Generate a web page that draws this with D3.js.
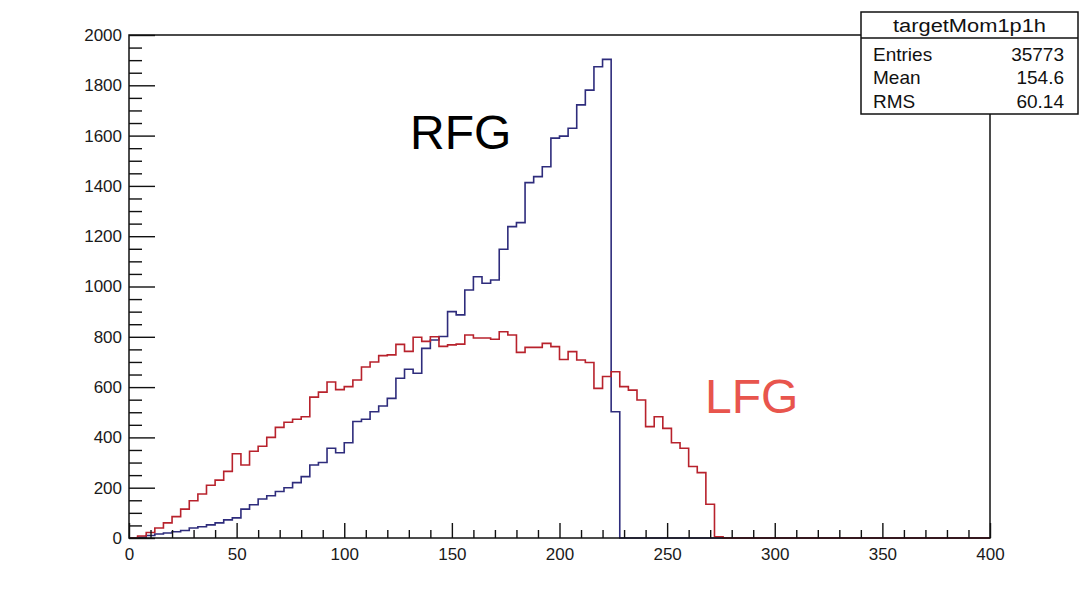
<!DOCTYPE html>
<html><head><meta charset="utf-8">
<script src="https://cdn.jsdelivr.net/npm/d3@7"></script>
<style>body{margin:0;background:#fff}svg{display:block}</style>
</head><body><svg id="c" width="1081" height="595"></svg>
<script>
// ---- data ----
const binWidth = 4;            // histogram bin width (100 bins over 0..400)
const xTickMajor = [0, 50, 100, 150, 200, 250, 300, 350, 400];
const yTickMajor = [0, 200, 400, 600, 800, 1000, 1200, 1400, 1600, 1800, 2000];
const rfgCounts = [
  0, 3, 10, 16, 20, 25, 30, 40, 45, 52,
  60, 72, 80, 115, 132, 155, 168, 185, 200, 220,
  244, 290, 300, 357, 339, 379, 463, 472, 502, 525,
  555, 635, 671, 655, 754, 787, 801, 900, 887, 986,
  1039, 1013, 1026, 1148, 1238, 1254, 1413, 1437, 1476, 1590,
  1598, 1629, 1722, 1781, 1874, 1903, 502, 0, 0, 0,
  0, 0, 0, 0, 0, 0, 0, 0, 0, 0,
  0, 0, 0, 0, 0, 0, 0, 0, 0, 0,
  0, 0, 0, 0, 0, 0, 0, 0, 0, 0,
  0, 0, 0, 0, 0, 0, 0, 0, 0, 0
];
const lfgCounts = [
  0, 8, 22, 40, 60, 85, 115, 148, 175, 210,
  230, 265, 335, 290, 345, 365, 400, 440, 460, 472,
  482, 560, 580, 620, 590, 602, 628, 680, 700, 725,
  728, 770, 742, 798, 782, 800, 762, 768, 771, 807,
  795, 795, 790, 820, 807, 738, 758, 758, 774, 761,
  710, 741, 708, 698, 595, 642, 661, 602, 588, 549,
  443, 482, 436, 379, 357, 284, 260, 134, 5, 0,
  0, 0, 0, 0, 0, 0, 0, 0, 0, 0,
  0, 0, 0, 0, 0, 0, 0, 0, 0, 0,
  0, 0, 0, 0, 0, 0, 0, 0, 0, 0
];
const statTitle = "targetMom1p1h";
const statNames = ["Entries", "Mean", "RMS"];
const statValues = ["35773", "154.6", "60.14"];

// ---- layout ----
const W = 1081, H = 595;
const m = {left: 129, right: 91, top: 35, bottom: 57};
const font = "'Liberation Sans', Arial, Helvetica, sans-serif";
const svg = d3.select("#c");
svg.append("rect").attr("width", W).attr("height", H).attr("fill", "#fff");

const x = d3.scaleLinear().domain([0, 400]).range([m.left, W - m.right]);
const y = d3.scaleLinear().domain([0, 2000]).range([H - m.bottom, m.top]);

// histogram step outlines
function stepPoints(counts) {
  const pts = [];
  counts.forEach((c, i) => {
    pts.push([i * binWidth, c]);
    pts.push([(i + 1) * binWidth, c]);
  });
  return pts;
}
const line = d3.line().x(d => x(d[0])).y(d => y(d[1]));

svg.append("path").attr("d", line(stepPoints(rfgCounts)))
  .attr("fill", "none").attr("stroke", "#2e2c7c").attr("stroke-width", 1.6);
svg.append("path").attr("d", line(stepPoints(lfgCounts)))
  .attr("fill", "none").attr("stroke", "#b8222c").attr("stroke-width", 1.6);

// axes
const yMinor = d3.range(0, 2001, 50).filter(v => v % 200 !== 0);
const xMinor = d3.range(0, 401, 10).filter(v => v % 50 !== 0);

const gy = svg.append("g").attr("transform", `translate(${m.left},0)`)
  .call(d3.axisLeft(y).tickValues(yTickMajor).tickSizeInner(-26).tickSizeOuter(0).tickPadding(7).tickFormat(d3.format("d")));
const gy2 = svg.append("g").attr("transform", `translate(${m.left},0)`)
  .call(d3.axisLeft(y).tickValues(yMinor).tickSizeInner(-13).tickSizeOuter(0).tickFormat(""));
const gx = svg.append("g").attr("transform", `translate(0,${H - m.bottom})`)
  .call(d3.axisBottom(x).tickValues(xTickMajor).tickSizeInner(-15).tickSizeOuter(0).tickPadding(10).tickFormat(d3.format("d")));
const gx2 = svg.append("g").attr("transform", `translate(0,${H - m.bottom})`)
  .call(d3.axisBottom(x).tickValues(xMinor).tickSizeInner(-8).tickSizeOuter(0).tickFormat(""));
[gy, gy2, gx, gx2].forEach(g => {
  g.select(".domain").remove();
  g.selectAll("line").attr("stroke", "#111").attr("stroke-width", 1.4);
  g.selectAll("text").attr("font-family", font).attr("font-size", 17).attr("fill", "#1a1a1a");
});

// frame
svg.append("rect").attr("x", x(0)).attr("y", y(2000))
  .attr("width", x(400) - x(0)).attr("height", y(0) - y(2000))
  .attr("fill", "none").attr("stroke", "#111").attr("stroke-width", 1.5);

// annotations
svg.append("text").attr("x", 410).attr("y", 149).text("RFG")
  .attr("font-family", font).attr("font-size", 48).attr("fill", "#000");
svg.append("text").attr("x", 705).attr("y", 413).text("LFG")
  .attr("font-family", font).attr("font-size", 48).attr("fill", "#e8554d");

// stats box
const bx = 861, by = 12, bw = 217, bh = 102;
const sb = svg.append("g");
sb.append("rect").attr("x", bx).attr("y", by).attr("width", bw).attr("height", bh)
  .attr("fill", "#fff").attr("stroke", "#111").attr("stroke-width", 1.5);
sb.append("line").attr("x1", bx).attr("x2", bx + bw).attr("y1", 38).attr("y2", 38)
  .attr("stroke", "#111").attr("stroke-width", 1.5);
sb.append("text").attr("x", bx + bw / 2).attr("y", 32).attr("text-anchor", "middle")
  .attr("font-family", font).attr("font-size", 18).attr("fill", "#111")
  .attr("textLength", 153).attr("lengthAdjust", "spacingAndGlyphs").text(statTitle);
const rowY = [61, 84, 108];
statNames.forEach((n, i) => {
  sb.append("text").attr("x", 873).attr("y", rowY[i]).text(n)
    .attr("font-family", font).attr("font-size", 19).attr("fill", "#111");
  sb.append("text").attr("x", 1064).attr("y", rowY[i]).attr("text-anchor", "end").text(statValues[i])
    .attr("font-family", font).attr("font-size", 19).attr("fill", "#111");
});
</script>
</body></html>
